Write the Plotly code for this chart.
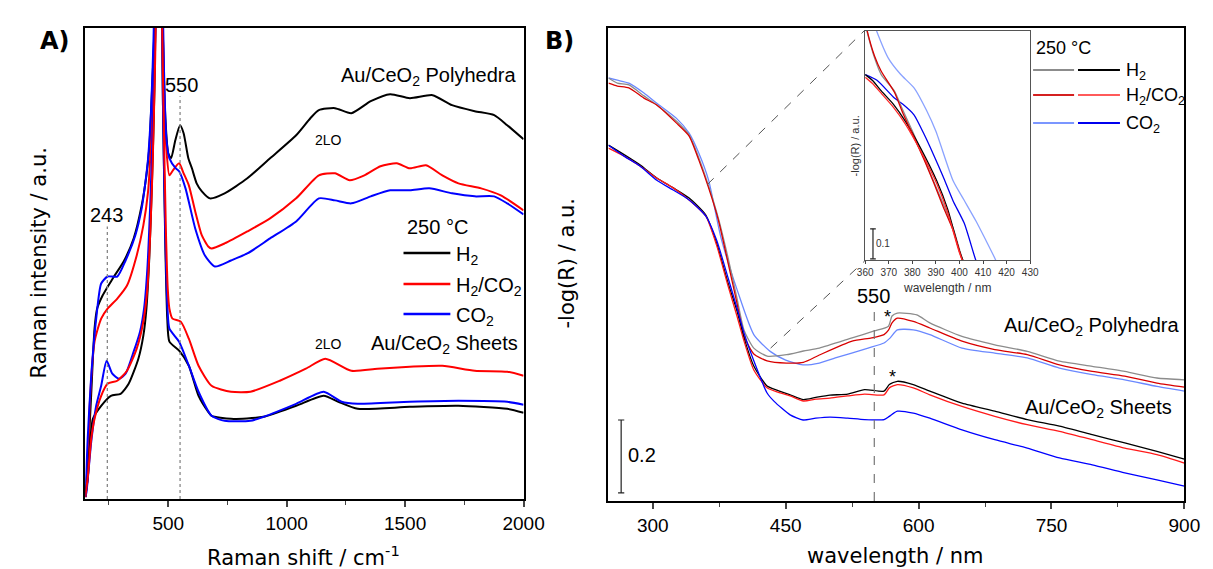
import plotly.graph_objects as go

W, H = 1213, 569

# ---- panel A: Raman spectra (cm-1, a.u.) ----
a_poly_h2_x = [150, 160, 175, 189, 200, 223, 245, 271, 312, 354, 388, 408, 420, 432, 442, 455, 462, 470, 478, 488, 500, 512, 530, 550, 565, 585, 600, 620, 642, 676, 738, 834, 930, 1040, 1100, 1136, 1204, 1273, 1355, 1437, 1520, 1616, 1698, 1794, 1876, 1931, 2000]
a_poly_h2 = [2, 35, 105, 170, 190, 203, 212, 222, 237, 260, 293, 323, 350, 410, 470, 640, 740, 590, 460, 380, 345, 340, 358, 373, 365, 340, 330, 315, 307, 300, 305, 320, 340, 363, 380, 388, 390, 385, 397, 404, 400, 403, 393, 387, 383, 373, 359]

a_poly_mix_x = [150, 160, 168, 189, 217, 244, 285, 326, 367, 395, 415, 428, 440, 450, 462, 472, 482, 492, 505, 520, 546, 565, 587, 614, 642, 669, 683, 738, 834, 930, 1040, 1136, 1204, 1266, 1328, 1396, 1465, 1520, 1588, 1657, 1725, 1821, 1904, 2000]
a_poly_mix = [2, 20, 90, 157, 180, 190, 200, 213, 243, 273, 307, 360, 450, 590, 740, 540, 410, 350, 323, 328, 335, 325, 313, 287, 263, 252, 250, 255, 267, 280, 300, 323, 325, 318, 323, 332, 335, 330, 333, 323, 315, 310, 303, 288]

a_poly_co2_x = [150, 160, 175, 196, 217, 244, 285, 320, 361, 388, 402, 415, 428, 438, 450, 462, 472, 482, 492, 505, 532, 546, 573, 614, 655, 697, 765, 834, 930, 1040, 1136, 1204, 1273, 1355, 1437, 1520, 1602, 1698, 1794, 1876, 1931, 2000]
a_poly_co2 = [2, 60, 123, 180, 215, 222, 222, 238, 263, 290, 313, 340, 390, 460, 590, 740, 570, 430, 360, 340, 330, 327, 310, 270, 243, 232, 238, 245, 260, 277, 300, 298, 295, 302, 308, 308, 310, 305, 302, 302, 295, 284]

a_sheet_h2_x = [150, 161, 182, 217, 258, 299, 333, 374, 395, 408, 420, 432, 442, 452, 462, 470, 478, 488, 496, 505, 546, 587, 628, 669, 683, 765, 902, 1040, 1156, 1218, 1300, 1520, 1725, 1931, 2000]
a_sheet_h2 = [2, 23, 80, 93, 103, 105, 115, 140, 163, 190, 240, 320, 410, 570, 690, 550, 390, 250, 180, 157, 148, 133, 103, 87, 83, 80, 82, 93, 103, 97, 90, 92, 93, 90, 86]

a_sheet_mix_x = [150, 161, 175, 189, 217, 244, 285, 326, 367, 395, 412, 425, 435, 445, 455, 462, 470, 480, 490, 498, 505, 518, 553, 587, 628, 683, 765, 847, 971, 1081, 1163, 1273, 1383, 1520, 1657, 1794, 1931, 2000]
a_sheet_mix = [2, 23, 60, 80, 103, 115, 118, 128, 150, 177, 210, 270, 340, 440, 590, 690, 540, 390, 270, 210, 190, 180, 177, 160, 133, 113, 107, 107, 118, 130, 140, 128, 130, 132, 133, 128, 127, 123]

a_sheet_co2_x = [150, 155, 175, 196, 217, 240, 264, 292, 320, 354, 381, 398, 412, 425, 436, 448, 460, 470, 478, 488, 497, 505, 546, 587, 628, 683, 738, 847, 902, 1040, 1156, 1232, 1300, 1520, 1725, 1931, 2000]
a_sheet_co2 = [2, 7, 57, 93, 113, 138, 125, 120, 125, 147, 167, 190, 230, 300, 380, 490, 690, 550, 390, 260, 190, 170, 157, 133, 107, 83, 78, 78, 82, 95, 107, 97, 95, 97, 98, 97, 94]

a_ticks = [500, 1000, 1500, 2000]
a_minor = [250, 750, 1250, 1750]

# ---- panel B: UV-vis, -log(R) ----
b_poly_h2_x = [250, 260, 273, 290, 304.5, 326.5, 341, 352, 363, 374, 385, 395, 403, 414, 429, 451, 470, 488, 525, 550, 566, 570, 576, 598, 612.7, 649, 686, 722.7, 759, 796, 832.7, 869, 900]
b_poly_h2 = [1.159, 1.145, 1.140, 1.110, 1.085, 1.041, 1.003, 0.940, 0.863, 0.775, 0.666, 0.556, 0.468, 0.419, 0.397, 0.401, 0.411, 0.419, 0.447, 0.466, 0.479, 0.507, 0.515, 0.510, 0.488, 0.451, 0.428, 0.410, 0.383, 0.369, 0.355, 0.337, 0.332]

b_poly_mix_x = [250, 260, 273, 290, 304.5, 326.5, 341, 352, 363, 374, 385, 395, 403, 414, 429, 451, 470, 488, 525, 547, 561, 566, 570, 576, 594, 612.7, 649, 686, 722.7, 759, 796, 832.7, 869, 900]
b_poly_mix = [1.145, 1.137, 1.132, 1.104, 1.085, 1.036, 1.000, 0.934, 0.858, 0.770, 0.652, 0.542, 0.452, 0.403, 0.384, 0.378, 0.380, 0.400, 0.438, 0.447, 0.456, 0.468, 0.488, 0.501, 0.492, 0.474, 0.438, 0.415, 0.401, 0.373, 0.355, 0.342, 0.323, 0.312]

b_poly_co2_x = [250, 260, 273, 290, 304.5, 326.5, 341, 352, 363, 377, 395.7, 414, 432.5, 450, 469.4, 488, 506, 543, 561, 568, 576, 594, 612.7, 649, 686, 722.7, 759, 796, 832.7, 869, 900]
b_poly_co2 = [1.159, 1.153, 1.145, 1.118, 1.090, 1.049, 1.008, 0.953, 0.879, 0.721, 0.575, 0.456, 0.410, 0.386, 0.373, 0.378, 0.392, 0.419, 0.433, 0.447, 0.469, 0.469, 0.456, 0.419, 0.405, 0.392, 0.364, 0.346, 0.332, 0.314, 0.301]

b_sheet_x = [250, 267.6, 285.5, 304.5, 323, 341, 359.7, 372, 385, 395, 403, 414, 429, 440, 455, 470, 484, 500, 520, 539, 561, 567, 576, 594, 612.7, 649, 686, 722.7, 759, 796, 832.7, 869, 900]
b_sheet_h2 = [0.975, 0.949, 0.921, 0.885, 0.858, 0.830, 0.784, 0.707, 0.597, 0.521, 0.447, 0.370, 0.315, 0.304, 0.291, 0.278, 0.284, 0.290, 0.293, 0.305, 0.301, 0.319, 0.328, 0.319, 0.301, 0.268, 0.246, 0.223, 0.205, 0.182, 0.159, 0.136, 0.115]
b_sheet_mix = [0.967, 0.945, 0.918, 0.885, 0.858, 0.825, 0.781, 0.701, 0.589, 0.507, 0.438, 0.359, 0.310, 0.299, 0.288, 0.274, 0.279, 0.282, 0.288, 0.293, 0.291, 0.310, 0.319, 0.310, 0.291, 0.259, 0.232, 0.209, 0.191, 0.168, 0.145, 0.127, 0.104]
b_sheet_co2_x = [250, 267.6, 285.5, 304.5, 323, 341, 359.7, 372, 385, 395, 403, 414, 429, 437, 455, 469.6, 484, 500, 520, 539, 561, 567, 576, 594, 612.7, 649, 686, 722.7, 759, 796, 832.7, 869, 900]
b_sheet_co2 = [0.975, 0.945, 0.918, 0.879, 0.852, 0.825, 0.781, 0.715, 0.611, 0.529, 0.460, 0.384, 0.296, 0.273, 0.236, 0.222, 0.227, 0.230, 0.227, 0.223, 0.223, 0.232, 0.246, 0.241, 0.227, 0.195, 0.168, 0.145, 0.118, 0.099, 0.077, 0.058, 0.041]

b_ticks = [300, 450, 600, 750, 900]
b_minor = [375, 525, 675, 825]

# ---- inset (360-430 nm zoom) ----
i_poly_h2_x = [360, 360.7, 364, 366.8, 372.4, 376, 380.7, 385, 389, 393, 397.3, 401.4, 404]
i_poly_h2 = [0.79, 0.765, 0.674, 0.619, 0.564, 0.50, 0.419, 0.34, 0.264, 0.19, 0.108, 0.0, -0.05]
i_poly_mix = [0.80, 0.77, 0.68, 0.63, 0.56, 0.49, 0.41, 0.335, 0.26, 0.18, 0.10, -0.005, -0.05]
i_poly_co2_x = [362, 364.8, 369.8, 375, 380.8, 386, 390, 397.3, 402, 407, 411, 415.3, 418]
i_poly_co2 = [0.83, 0.765, 0.674, 0.62, 0.574, 0.50, 0.43, 0.265, 0.20, 0.131, 0.07, 0.002, -0.05]
i_sheet_x = [360, 363, 367, 372, 377, 383.5, 390.4, 395, 400, 403]
i_sheet_h2 = [0.619, 0.60, 0.563, 0.52, 0.464, 0.374, 0.264, 0.17, 0.031, -0.03]
i_sheet_mix = [0.61, 0.59, 0.555, 0.51, 0.455, 0.365, 0.255, 0.16, 0.025, -0.035]
i_sheet_co2_x = [360, 365, 372.4, 376, 380.7, 385, 389, 393, 397.3, 402, 406.9, 409]
i_sheet_co2 = [0.619, 0.60, 0.541, 0.52, 0.485, 0.42, 0.352, 0.28, 0.198, 0.124, 0.001, -0.04]
i_ticks = [360, 370, 380, 390, 400, 410, 420, 430]

ARIAL = "Liberation Sans, Arial, sans-serif"
DEJAVU = "DejaVu Sans, Verdana, sans-serif"


def px(x):
    # window pixel -> paper fraction
    return x / W


def py(y):
    return 1 - y / H


def line(x, y, color, width, xa, ya):
    return go.Scatter(x=x, y=y, mode="lines",
                      line=dict(color=color, width=width, shape="spline", smoothing=0.6),
                      xaxis=xa, yaxis=ya, showlegend=False, hoverinfo="skip")


fig = go.Figure()

# A
for x, y, c in [(a_poly_h2_x, a_poly_h2, "#000000"), (a_poly_mix_x, a_poly_mix, "#ff0000"),
                (a_poly_co2_x, a_poly_co2, "#0000ff"), (a_sheet_h2_x, a_sheet_h2, "#000000"),
                (a_sheet_co2_x, a_sheet_co2, "#0000ff"), (a_sheet_mix_x, a_sheet_mix, "#ff0000")]:
    fig.add_trace(line(x, y, c, 2, "x", "y"))

# B
for x, y, c in [(b_poly_co2_x, b_poly_co2, "#6a88ff"), (b_poly_h2_x, b_poly_h2, "#8c8c8c"),
                (b_poly_mix_x, b_poly_mix, "#d80000"), (b_sheet_x, b_sheet_h2, "#000000"),
                (b_sheet_x, b_sheet_mix, "#ff1a1a"), (b_sheet_co2_x, b_sheet_co2, "#0000ff")]:
    fig.add_trace(line(x, y, c, 1.3, "x2", "y2"))

# inset
for x, y, c in [(i_poly_co2_x, i_poly_co2, "#8aa2ff"), (i_sheet_co2_x, i_sheet_co2, "#0000ee"),
                (i_poly_h2_x, i_poly_h2, "#8c8c8c"), (i_sheet_x, i_sheet_h2, "#000000"),
                (i_poly_h2_x, i_poly_mix, "#d80000"), (i_sheet_x, i_sheet_mix, "#ff2a2a")]:
    fig.add_trace(line(x, y, c, 1.3, "x3", "y3"))

box = dict(showline=True, mirror=True, linecolor="black", linewidth=1.5,
           showgrid=False, zeroline=False)
tickfont = dict(family=ARIAL, size=19, color="black")

fig.update_layout(
    width=W, height=H, margin=dict(l=0, r=0, t=0, b=0),
    paper_bgcolor="white", plot_bgcolor="white", showlegend=False,
    xaxis=dict(**box, domain=[px(71), px(520)], range=[150, 2000], tickmode="array",
               tickvals=a_ticks, ticks="outside", ticklen=6, tickwidth=1.5, tickfont=tickfont,
               minor=dict(tickmode="array", tickvals=a_minor, ticks="outside", ticklen=4, tickwidth=1.2),
               anchor="y"),
    yaxis=dict(**box, domain=[py(491), py(20)], range=[0, 470], showticklabels=False,
               ticks="", anchor="x"),
    xaxis2=dict(**box, domain=[px(607), px(1197)], range=[250, 900], tickmode="array",
                tickvals=b_ticks, ticks="outside", ticklen=6, tickwidth=1.5, tickfont=tickfont,
                minor=dict(tickmode="array", tickvals=b_minor, ticks="outside", ticklen=4, tickwidth=1.2),
                anchor="y2"),
    yaxis2=dict(**box, domain=[py(493), py(20)], range=[0, 1.296], showticklabels=False,
                ticks="", anchor="x2"),
    xaxis3=dict(showline=True, mirror=True, linecolor="#555555", linewidth=1.2, showgrid=False,
                zeroline=False, domain=[px(870), px(1039)], range=[360, 430], tickmode="array",
                tickvals=i_ticks, ticks="outside", ticklen=3, tickwidth=1,
                tickfont=dict(family=ARIAL, size=10, color="#333333"), anchor="y3"),
    yaxis3=dict(showline=True, mirror=True, linecolor="#555555", linewidth=1.2, showgrid=False,
                zeroline=False, domain=[py(252.3), py(22.5)], range=[0, 0.766],
                showticklabels=False, ticks="", anchor="x3"),
)

shapes = []
dash = dict(color="#888888", width=1.3, dash="dot")
# marker lines
shapes.append(dict(type="line", xref="x", yref="y", x0=243, x1=243, y0=0, y1=272, line=dash))
shapes.append(dict(type="line", xref="x", yref="y", x0=550, x1=550, y0=0, y1=402, line=dash))
shapes.append(dict(type="line", xref="x2", yref="y2", x0=550, x1=550, y0=0, y1=0.529,
                   line=dict(color="#777777", width=1.2, dash="dash")))
# zoom guide lines to the inset
guide = dict(color="#555555", width=1, dash="dash")
shapes.append(dict(type="line", xref="x2", yref="y2", x0=361.5, y0=0.867, x1=539.3, y1=1.290, line=guide))
shapes.append(dict(type="line", xref="x2", yref="y2", x0=433, y0=0.419, x1=539.3, y1=0.658, line=guide))
# scale bars
for xr, yr, xv, y0, y1, cap in [("x2", "y2", 264.3, 0.022, 0.222, 3.5), ("x3", "y3", 363.3, 0.005, 0.105, 1.2)]:
    shapes.append(dict(type="line", xref=xr, yref=yr, x0=xv, x1=xv, y0=y0, y1=y1,
                       line=dict(color="#222222", width=1.2)))
    for yy in (y0, y1):
        shapes.append(dict(type="line", xref=xr, yref=yr, x0=xv - cap, x1=xv + cap, y0=yy, y1=yy,
                           line=dict(color="#222222", width=1.2)))

annotations = []


def text(x, y, s, size, family=ARIAL, xanchor="center", color="black", angle=0):
    annotations.append(dict(x=px(x), y=py(y), xref="paper", yref="paper", text=s, showarrow=False,
                            xanchor=xanchor, yanchor="middle", textangle=angle,
                            font=dict(family=family, size=size, color=color)))


# legend A
text(432, 219, "250 °C", 20)
for yy, c, s in [(245, "#000000", "H<sub>2</sub>"), (276, "#ff0000", "H<sub>2</sub>/CO<sub>2</sub>"),
                 (306, "#0000ff", "CO<sub>2</sub>")]:
    shapes.append(dict(type="line", xref="paper", yref="paper", x0=px(397), x1=px(445),
                       y0=py(yy), y1=py(yy), line=dict(color=c, width=2.5)))
    text(449, yy + 2, s, 20, xanchor="left")

# legend B
text(1043, 40, "250 °C", 18, xanchor="left")
for yy, c1, c2, s in [(62, "#8c8c8c", "#000000", "H<sub>2</sub>"),
                      (87, "#d42020", "#ff5a5a", "H<sub>2</sub>/CO<sub>2</sub>"),
                      (115, "#7b96ff", "#0000ee", "CO<sub>2</sub>")]:
    shapes.append(dict(type="line", xref="paper", yref="paper", x0=px(1042), x1=px(1084),
                       y0=py(yy), y1=py(yy), line=dict(color=c1, width=2)))
    shapes.append(dict(type="line", xref="paper", yref="paper", x0=px(1088), x1=px(1131),
                       y0=py(yy), y1=py(yy), line=dict(color=c2, width=2)))
    text(1135, yy + 2, s, 18, xanchor="left")

# panel labels and titles
text(40, 33, "<b>A)</b>", 24, family=DEJAVU)
text(557, 33, "<b>B)</b>", 24, family=DEJAVU)
text(295, 548, "Raman shift / cm<sup>-1</sup>", 21, family=DEJAVU)
text(901, 548, "wavelength / nm", 21, family=DEJAVU)
text(24, 255, "Raman intensity / a.u.", 21, family=DEJAVU, angle=-90)
text(564, 255, "-log(R) / a.u.", 21, family=DEJAVU, angle=-90)

# panel A annotations
text(170, 77, "550", 20)
text(93, 207, "243", 20)
text(514, 68, "Au/CeO<sub>2</sub> Polyhedra", 20, xanchor="right")
text(516, 337, "Au/CeO<sub>2</sub> Sheets", 20, xanchor="right")
text(320, 132, "2LO", 14)
text(320, 336, "2LO", 14)

# panel B annotations
text(879, 288, "550", 20)
text(893, 309, "*", 18)
text(898, 369, "*", 18)
text(1194, 318, "Au/CeO<sub>2</sub> Polyhedra", 20, xanchor="right")
text(1186, 400, "Au/CeO<sub>2</sub> Sheets", 20, xanchor="right")
text(641, 447, "0.2", 20)
text(888, 235, "0.1", 10, color="#333333")
text(954, 280, "wavelength / nm", 12, color="#333333")
text(860, 138, "-log(R) / a.u.", 11, color="#333333", angle=-90)

fig.update_layout(shapes=shapes, annotations=annotations)
fig.write_html("out.html")
